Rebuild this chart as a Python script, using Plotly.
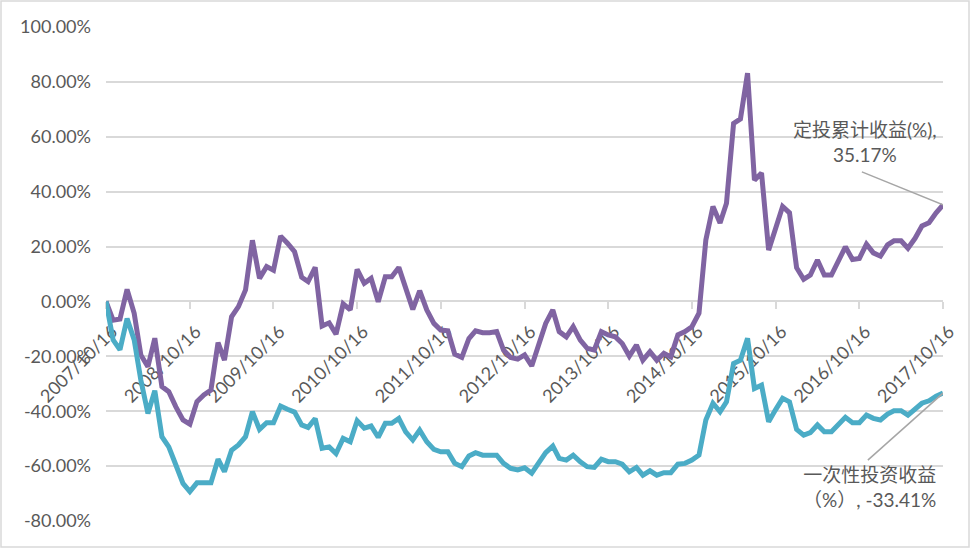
import plotly.graph_objects as go

# Monthly dates 2007/10/16 .. 2017/10/16
dates = [f"{2007 + (9 + k) // 12}-{(9 + k) % 12 + 1:02d}-16" for k in range(121)]

# 定投累计收益 (%)
sip_returns = [
    0, -6.8, -6.4, 4.4, -4.3, -19.5, -23.8, -13.4, -31, -32.9, -38.4, -43.2, -44.7, -36.5, -34.1, -32.3,
    -15, -21.4, -5.6, -1.9, 4.2, 22.3,
    8.4, 12.7, 11.4, 23.8, 21.2, 18.1, 8.8, 7.2, 12.4, -9, -7.8, -11.9, -0.9, -3.1, 11.7, 6.6, 8.4, -0.1, 9, 9,
    12.4, 4.8, -2.9, 3.9, -3.1, -8, -10.4, -10.7, -19.2, -20.4, -13.5, -10.7, -11.4, -11.4, -11, -17.7, -20.4,
    -21, -19.5, -23.5,
    -15.3, -8, -3.1, -11, -12.9, -9.2, -14.1, -17.1, -17.7, -11, -12.2, -12.9, -15.3, -19.9, -15.9, -21.4,
    -18.3, -21.4, -18.9, -20.2, -12.2, -11, -9.2, -4.3,
    22.4, 34.6, 28.6, 35.8, 64.9, 66.5, 83.2, 44.2, 46.8, 18.7, 26.5, 34.6, 32.3, 12.3,
    8.1, 9.6, 15.1, 9.6, 9.6, 15.1, 19.9, 15.3, 15.7, 20.9, 17.7, 16.5, 20.6, 22.1, 22.1, 19.4, 23, 27.5,
    28.7, 32.3, 35.17,
]

# 一次性投资收益 (%)
lump_returns = [
    0, -14, -17.6, -6.2, -14, -28.6, -40.8, -32.5, -49.3, -53, -59.6, -66.3, -69.3, -66.1, -66.1, -66.1,
    -57.5, -62, -54.2, -52.3, -49.3, -40.2,
    -46.6, -44.2, -44.2, -38.1, -39.3, -40.3, -45, -45.9, -42.7, -53.5, -53, -55.4, -49.9, -51.1, -43.5,
    -46.2, -45.4, -49.5, -44.4, -44.4,
    -42.6, -47.5, -50.5, -46.9, -51.1, -53.9, -54.8, -54.8, -59, -60.2, -56.3, -55.1, -56, -56, -56, -59,
    -60.8, -61.4, -60.6, -62.6,
    -58.8, -55.1, -52.7, -57.2, -57.8, -56, -58.4, -60.2, -60.5, -57.5, -58.4, -58.4, -59.3, -62.1, -60.5,
    -63.3, -61.7, -63.3, -62.4, -62.4, -59.3, -59, -57.8, -56,
    -43.2, -37.1, -40.2, -36.6, -22.6, -21.4, -13.4, -31.7, -30.5, -43.8, -39.5, -35.3, -36.6, -46.6,
    -48.7, -47.8, -45, -47.5, -47.5, -45, -42.2, -44.2, -44.2, -41.4, -42.6, -43.2, -41, -39.8, -39.8,
    -41.4, -39.3, -37.1, -36.2, -34.5, -33.41,
]

y_tickvals = [-80, -60, -40, -20, 0, 20, 40, 60, 80, 100]
y_ticktext = ["-80.00%", "-60.00%", "-40.00%", "-20.00%", "0.00%", "20.00%", "40.00%", "60.00%", "80.00%", "100.00%"]

label_sip = "定投累计收益(%),<br>35.17%"
label_lump = "一次性投资收益<br>（%）, -33.41%"

FONT = "Lato, 'Noto Sans CJK SC', sans-serif"
TXT = "#595959"
GRID = "#d9d9d9"

fig = go.Figure()
fig.add_trace(go.Scatter(x=dates, y=sip_returns, mode="lines", name="定投累计收益(%)",
                         line=dict(color="#8064A2", width=5)))
fig.add_trace(go.Scatter(x=dates, y=lump_returns, mode="lines", name="一次性投资收益（%）",
                         line=dict(color="#4BACC6", width=5)))

W, H = 971, 549
L, R, T, B = 106, 28, 27, 28
pw, ph = W - L - R, H - T - B

fig.update_layout(
    width=W, height=H,
    margin=dict(l=L, r=R, t=T, b=B),
    paper_bgcolor="white", plot_bgcolor="white",
    showlegend=False,
    font=dict(family=FONT, size=18, color=TXT),
    xaxis=dict(
        type="date", range=[dates[0], dates[-1]],
        tickmode="linear", tick0=dates[0], dtick="M12", tickformat="%Y/%m/%d",
        tickangle=-45, anchor="free", position=80 / 180,
        showline=True, linecolor=GRID, linewidth=1.5,
        ticks="outside", ticklen=7, tickcolor=GRID, tickwidth=1.5,
        ticklabelshift=6, ticklabelstandoff=5,
        showgrid=False, zeroline=False, layer="below traces",
        tickfont=dict(family=FONT, size=18, color=TXT),
    ),
    yaxis=dict(
        range=[-80, 100], tickmode="array", tickvals=y_tickvals, ticktext=y_ticktext,
        showgrid=True, gridcolor=GRID, gridwidth=1.5, zeroline=False, showline=False,
        ticks="", ticklabelstandoff=14, layer="below traces",
        tickfont=dict(family=FONT, size=18, color=TXT),
    ),
)

# leader lines
fig.add_shape(type="line", xref="x", yref="y", x0="2016-10-27", y0=47.2, x1=dates[-1], y1=sip_returns[-1],
              line=dict(color="#a6a6a6", width=1.5))
fig.add_shape(type="line", xref="x", yref="y", x0="2016-11-22", y0=-57.8, x1=dates[-1], y1=lump_returns[-1],
              line=dict(color="#a6a6a6", width=1.5))

# labels
fig.add_annotation(text=label_sip, xref="paper", yref="paper", xanchor="center", yanchor="middle",
                   x=(865 - L) / pw, y=(H - B - 142) / ph, showarrow=False,
                   font=dict(family=FONT, size=19, color=TXT), align="center")
fig.add_annotation(text=label_lump, xref="paper", yref="paper", xanchor="center", yanchor="middle",
                   x=(869 - L) / pw, y=(H - B - 487) / ph, showarrow=False,
                   font=dict(family=FONT, size=19, color=TXT), align="center")

# chart border
fig.add_shape(type="rect", xref="paper", yref="paper",
              x0=(1 - L) / pw, x1=(W - 2 - L) / pw, y0=(H - B - (H - 2)) / ph, y1=(H - B - 1) / ph,
              line=dict(color=GRID, width=1.5), fillcolor="rgba(0,0,0,0)", layer="below")

fig.write_html(
    "out.html",
    config={"displayModeBar": False},
    post_script="document.body.style.margin='0';document.body.style.overflow='hidden';",
)
